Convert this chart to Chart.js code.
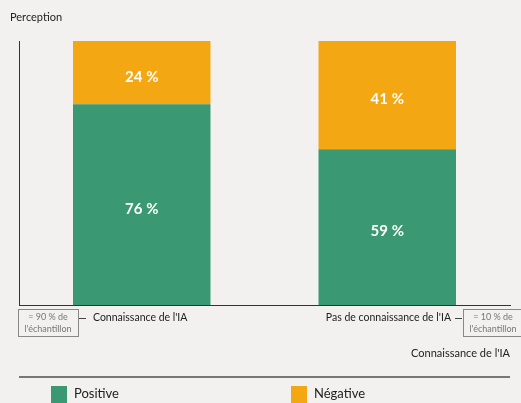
<!DOCTYPE html>
<html>
<head>
<meta charset="utf-8">
<script src="https://cdn.jsdelivr.net/npm/chart.js@4"></script>
<style>
  html, body { margin: 0; padding: 0; background: #f2f1ef; }
  #wrap { width: 521px; height: 403px; position: relative; }
</style>
</head>
<body>
<div id="wrap"><canvas id="percChart"></canvas></div>
<script>
const categories = ["Connaissance de l'IA", "Pas de connaissance de l'IA"];
const sampleShares = ["= 90 % de|l'échantillon", "= 10 % de|l'échantillon"];
const positive = [76, 59];
const negative = [24, 41];
const seriesNames = ["Positive", "Négative"];
const colors = ["#3a9873", "#f2a713"];
const FONT = "Lato, 'Noto Sans', sans-serif";

// labels inside bars, category labels with boxes, axis title and legend
const extras = {
  id: "extras",
  afterDatasetsDraw(chart) {
    const ctx = chart.ctx;
    ctx.save();
    ctx.fillStyle = "#ffffff";
    ctx.font = "bold 15px " + FONT;
    ctx.textAlign = "center";
    ctx.textBaseline = "middle";
    chart.data.datasets.forEach((ds, di) => {
      chart.getDatasetMeta(di).data.forEach((bar, i) => {
        ctx.fillText(ds.data[i] + " %", bar.x, (bar.y + bar.base) / 2 + 4);
      });
    });
    ctx.restore();
  },
  afterDraw(chart) {
    const ctx = chart.ctx;
    const area = chart.chartArea;
    ctx.save();
    ctx.textBaseline = "middle";

    // y title
    ctx.fillStyle = "#222";
    ctx.font = "11px " + FONT;
    ctx.textAlign = "left";
    ctx.fillText("Perception", 10, 17);

    const labY = area.bottom + 13;
    categories.forEach((cat, i) => {
      const left = i === 0;
      const boxX = left ? area.left - 1 : area.right - 47;
      const boxW = 60;
      const lines = sampleShares[i].split("|");
      ctx.strokeStyle = "#888";
      ctx.lineWidth = 1;
      ctx.strokeRect(boxX + 0.5, area.bottom + 4.5, boxW, 27);
      ctx.fillStyle = "#777";
      ctx.font = "9px " + FONT;
      ctx.textAlign = "center";
      ctx.fillText(lines[0], boxX + boxW / 2, area.bottom + 12);
      ctx.fillText(lines[1], boxX + boxW / 2, area.bottom + 24);
      // dash
      ctx.strokeStyle = "#444";
      ctx.beginPath();
      const dx = left ? boxX + boxW + 1 : boxX - 8;
      ctx.moveTo(dx, labY + 0.5);
      ctx.lineTo(dx + 7, labY + 0.5);
      ctx.stroke();
      ctx.fillStyle = "#222";
      ctx.font = "10.5px " + FONT;
      ctx.textAlign = left ? "left" : "right";
      ctx.fillText(cat, left ? dx + 14 : dx - 4, labY);
    });

    // x title
    ctx.font = "11px " + FONT;
    ctx.textAlign = "right";
    ctx.fillText("Connaissance de l'IA", area.right, area.bottom + 48);

    // legend separator
    ctx.strokeStyle = "#777";
    ctx.lineWidth = 2;
    ctx.beginPath();
    ctx.moveTo(area.left, 377);
    ctx.lineTo(area.right, 377);
    ctx.stroke();

    // legend items
    const legX = [51, 291];
    ctx.font = "13px " + FONT;
    ctx.textAlign = "left";
    seriesNames.forEach((name, i) => {
      ctx.fillStyle = colors[i];
      ctx.fillRect(legX[i], 386, 16, 17);
      ctx.fillStyle = "#222";
      ctx.fillText(name, legX[i] + 23, 394);
    });
    ctx.restore();
  }
};

new Chart(document.getElementById("percChart"), {
  type: "bar",
  data: {
    labels: categories,
    datasets: [
      { label: seriesNames[0], data: positive, backgroundColor: colors[0] },
      { label: seriesNames[1], data: negative, backgroundColor: colors[1] }
    ]
  },
  options: {
    responsive: true,
    maintainAspectRatio: false,
    animation: false,
    layout: { padding: { left: 19, top: 41, right: 11, bottom: 98 } },
    datasets: { bar: { categoryPercentage: 0.56, barPercentage: 1 } },
    plugins: {
      legend: { display: false },
      tooltip: { enabled: false }
    },
    scales: {
      x: {
        stacked: true,
        grid: { display: false, drawTicks: false },
        border: { display: true, color: "#333", width: 1 },
        ticks: { display: false }
      },
      y: {
        stacked: true,
        min: 0,
        max: 100,
        grid: { display: false, drawTicks: false },
        border: { display: true, color: "#333", width: 1 },
        ticks: { display: false }
      }
    }
  },
  plugins: [extras]
});
</script>
</body>
</html>
